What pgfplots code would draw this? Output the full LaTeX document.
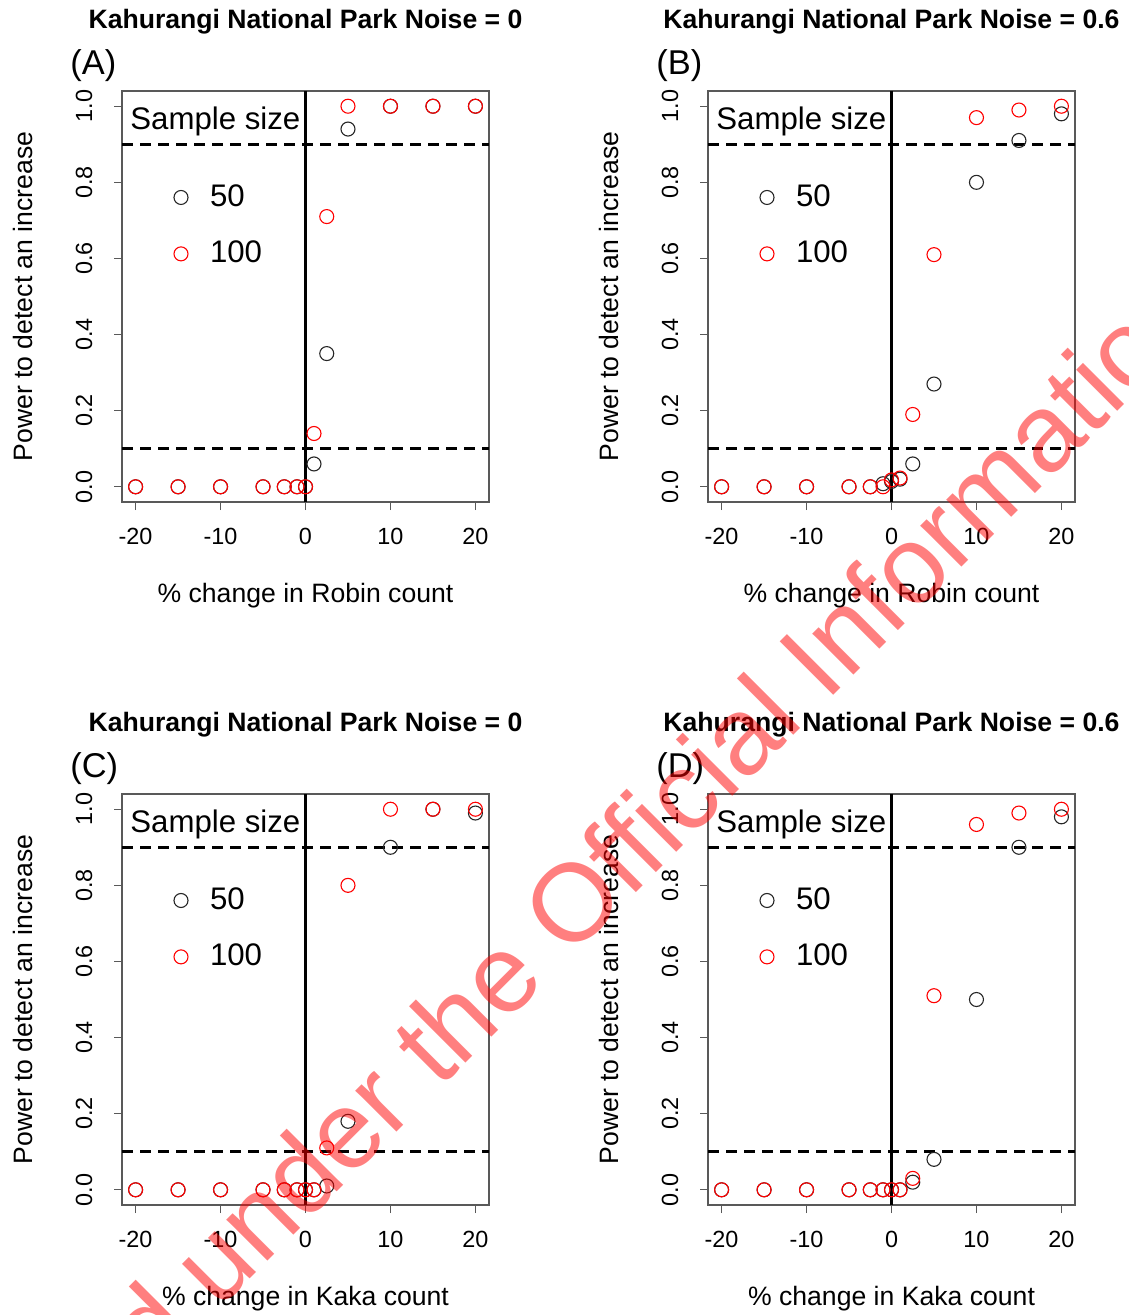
\documentclass[border=0pt]{standalone}
\usepackage{pgfplots}
\usepackage{pgfplotstable}
\pgfplotsset{compat=1.18}
\usepackage{fontspec}
\setmainfont{Liberation Sans}

\pgfplotstableread{
x     n50    n100
-20   0      0
-15   0      0
-10   0      0
-5    0      0
-2.5  0      0
-1    0      0
0     0      0
1     0.06   0.14
2.5   0.35   0.71
5     0.94   1.0
10    1.0    1.0
15    1.0    1.0
20    1.0    1.0
}\dataA

\pgfplotstableread{
x     n50    n100
-20   0      0
-15   0      0
-10   0      0
-5    0      0
-2.5  0      0
-1    0.008  0.0
0     0.014  0.018
1     0.02   0.023
2.5   0.06   0.19
5     0.27   0.61
10    0.80   0.97
15    0.91   0.99
20    0.98   1.0
}\dataB

\pgfplotstableread{
x     n50    n100
-20   0      0
-15   0      0
-10   0      0
-5    0      0
-2.5  0      0
-1    0      0
0     0      0
1     0      0
2.5   0.01   0.11
5     0.18   0.80
10    0.90   1.0
15    1.0    1.0
20    0.99   1.0
}\dataC

\pgfplotstableread{
x     n50    n100
-20   0      0
-15   0      0
-10   0      0
-5    0      0
-2.5  0      0
-1    0      0
0     0      0
1     0      0
2.5   0.02   0.03
5     0.08   0.51
10    0.50   0.96
15    0.90   0.99
20    0.98   1.0
}\dataD

\pgfplotsset{
  rpanel/.style={
    scale only axis, width=183.5pt, height=205.5pt,
    anchor=south west, clip=false,
    xmin=-21.6, xmax=21.6, ymin=-0.04, ymax=1.04,
    xtick={-20,-10,0,10,20}, xticklabels={-20,-10,0,10,20},
    ytick={0,0.2,0.4,0.6,0.8,1}, yticklabels={0.0,0.2,0.4,0.6,0.8,1.0},
    tick align=outside, tick pos=left, major tick length=4pt,
    axis line style={black!65, line width=0.6pt},
    tick style={black!65, line width=0.6pt},
    tick label style={font=\fontsize{11.7}{12}\selectfont},
    xticklabel style={anchor=base, inner sep=0pt, yshift=-17pt},
    yticklabel style={xshift=-11pt, rotate=90, anchor=base, inner sep=0pt},
    every axis x label/.style={at={(axis description cs:0.5,-0.2433)}, anchor=base, inner sep=0pt, font=\fontsize{13.3}{14}\selectfont},
    every axis y label/.style={at={(axis description cs:-0.2452,0.5)}, rotate=90, anchor=base, inner sep=0pt, font=\fontsize{13.3}{14}\selectfont},
    ylabel={Power to detect an increase},
    legend style={draw=none, fill=none, inner sep=0pt, outer sep=0pt,
      at={(axis description cs:0.1417,0.7723)}, anchor=north west,
      row sep=17.3pt, nodes={inner sep=0pt, text depth=0pt},
      font=\fontsize{15.6}{16}\selectfont,
      /tikz/every even column/.append style={column sep=0pt},
      /tikz/every odd column/.append style={column sep=0pt}},
    legend cell align=left,
  },
  s50/.style={only marks, mark=o, mark size=3.5pt, black!85, mark options={line width=0.55pt},
    legend image code/.code={\draw[##1] plot coordinates {(0pt,-1pt)}; \path[draw=none] (-3.5pt,-1pt) -- (14.5pt,-1pt);}},
  s100/.style={only marks, mark=o, mark size=3.5pt, red, mark options={line width=0.55pt},
    legend image code/.code={\draw[##1] plot coordinates {(0pt,-1pt)}; \path[draw=none] (-3.5pt,-1pt) -- (14.5pt,-1pt);}},
  refl/.style={forget plot, line width=1.3pt, black},
  dashl/.style={forget plot, line width=1.3pt, black, dash pattern=on 5.5pt off 3.5pt},
}

\newcommand{\panel}[3]{%
  \addplot[dashl] coordinates {(-21.6,0.1) (21.6,0.1)};
  \addplot[dashl] coordinates {(-21.6,0.9) (21.6,0.9)};
  \addplot[refl] coordinates {(0,-0.04) (0,1.04)};
  \addplot[s50] table[x=x, y=n50] {#1};
  \addplot[s100] table[x=x, y=n100] {#1};
  \legend{50,100}
  \node[anchor=base, inner sep=0pt, font=\bfseries\fontsize{13.3}{14}\selectfont] at (axis description cs:0.5,1.151) {#2};
  \node[anchor=base west, inner sep=0pt, font=\fontsize{17.2}{18}\selectfont] at (axis description cs:-0.1417,1.041) {#3};
  \node[anchor=base west, inner sep=0pt, font=\fontsize{15.6}{16}\selectfont] at (axis description cs:0.0218,0.9075) {Sample size};
}

\begin{document}
\begin{tikzpicture}
\useasboundingbox (0pt,0pt) rectangle (564pt,-657.5pt);

\begin{axis}[rpanel, at={(61pt,-251pt)}, xlabel={\% change in Robin count}]
\panel{\dataA}{Kahurangi National Park Noise = 0}{(A)}
\end{axis}

\begin{axis}[rpanel, at={(354pt,-251pt)}, xlabel={\% change in Robin count}]
\panel{\dataB}{Kahurangi National Park Noise = 0.6}{(B)}
\end{axis}

\begin{axis}[rpanel, at={(61pt,-602.5pt)}, xlabel={\% change in Kaka count}]
\panel{\dataC}{Kahurangi National Park Noise = 0}{(C)}
\end{axis}

\begin{axis}[rpanel, at={(354pt,-602.5pt)}, xlabel={\% change in Kaka count}]
\panel{\dataD}{Kahurangi National Park Noise = 0.6}{(D)}
\end{axis}

\begin{scope}
\clip (0pt,0pt) rectangle (564pt,-657.5pt);
\node[rotate=45, anchor=base, inner sep=0pt, text=red, text opacity=0.5,
      font=\fontsize{55}{55}\selectfont] at (304.75pt,-459.75pt)
      {Released under the Official Information Act};
\end{scope}
\end{tikzpicture}
\end{document}
